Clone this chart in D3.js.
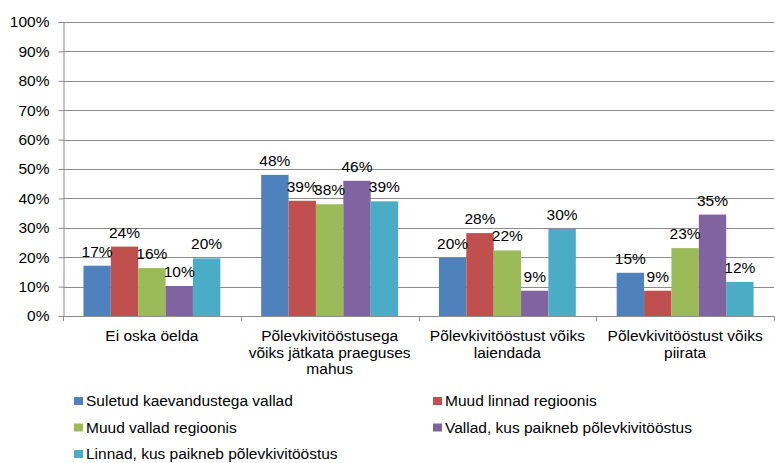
<!DOCTYPE html>
<html>
<head>
<meta charset="utf-8">
<script src="https://cdn.jsdelivr.net/npm/d3@7"></script>
<style>
  body { margin: 0; background: #fff; }
  svg { font-family: "Liberation Sans", Arial, sans-serif; }
</style>
</head>
<body>
<div id="chart"></div>
<script>
// Category labels (line breaks as in the original)
const categories = [
    "Ei oska öelda",
    "Põlevkivitööstusega\nvõiks jätkata praeguses\nmahus",
    "Põlevkivitööstust võiks\nlaiendada",
    "Põlevkivitööstust võiks\npiirata"
];

const seriesNames = [
    "Suletud kaevandustega vallad",
    "Muud linnad regioonis",
    "Muud vallad regioonis",
    "Vallad, kus paikneb põlevkivitööstus",
    "Linnad, kus paikneb põlevkivitööstus"
];

// values per series, one per category (percent)
const suletud = [17.1, 48.0, 19.8, 14.7];
const muudLinnad = [23.6, 39.2, 28.2, 8.6];
const muudVallad = [16.3, 38.0, 22.3, 23.1];
const valladPKT = [10.2, 46.0, 8.6, 34.5];
const linnadPKT = [19.6, 39.0, 29.6, 11.6];

const seriesValues = [suletud, muudLinnad, muudVallad, valladPKT, linnadPKT];
const colors = ["#4F81BD", "#C0504D", "#9BBB59", "#8064A2", "#4BACC6"];
const yTicks = [0, 10, 20, 30, 40, 50, 60, 70, 80, 90, 100];

const W = 775, H = 463;
const margin = { top: 22, right: 1, bottom: 147, left: 63 };
const width = W - margin.left - margin.right;
const height = H - margin.top - margin.bottom;
const fontSize = "15.5px";

const svg = d3.select("#chart").append("svg")
    .attr("width", W)
    .attr("height", H);

const g = svg.append("g")
    .attr("transform", `translate(${margin.left},${margin.top})`);

const x0 = d3.scaleBand()
    .domain(categories)
    .range([0, width])
    .paddingInner(0)
    .paddingOuter(0);

const x1 = d3.scaleBand()
    .domain(seriesNames)
    .range([0, x0.bandwidth() * 0.77])
    .padding(0);

const groupOffset = x0.bandwidth() * 0.115;

const y = d3.scaleLinear()
    .domain([0, 100])
    .range([height, 0]);

// gridlines
g.append("g")
    .selectAll("line")
    .data(yTicks.filter(d => d > 0))
    .enter().append("line")
    .attr("x1", 0)
    .attr("x2", width)
    .attr("y1", d => Math.round(y(d)) + 0.5)
    .attr("y2", d => Math.round(y(d)) + 0.5)
    .attr("stroke", "#8c8c8c")
    .attr("stroke-width", 1);

// y axis
const yAxis = g.append("g")
    .attr("transform", "translate(0.5,0)")
    .call(d3.axisLeft(y).tickValues(yTicks).tickSize(5).tickPadding(9).tickFormat(d => d + "%"));
yAxis.select(".domain").attr("stroke", "#8c8c8c");
yAxis.selectAll(".tick line").attr("stroke", "#8c8c8c");
yAxis.selectAll("text")
    .attr("fill", "#000")
    .style("font-size", fontSize)
    .style("font-family", "Liberation Sans, Arial, sans-serif");

// x axis baseline and category ticks
g.append("line")
    .attr("x1", 0).attr("x2", width)
    .attr("y1", height + 0.5).attr("y2", height + 0.5)
    .attr("stroke", "#8c8c8c");

g.append("g")
    .selectAll("line")
    .data(categories.map((c, i) => i).concat([categories.length]))
    .enter().append("line")
    .attr("x1", i => Math.round(i * x0.bandwidth()) + 0.5)
    .attr("x2", i => Math.round(i * x0.bandwidth()) + 0.5)
    .attr("y1", height)
    .attr("y2", height + 5)
    .attr("stroke", "#8c8c8c");

// bars
const groups = g.selectAll(".cat")
    .data(categories)
    .enter().append("g")
    .attr("class", "cat")
    .attr("transform", d => `translate(${x0(d) + groupOffset},0)`);

groups.selectAll("rect")
    .data((c, ci) => seriesNames.map((s, si) => ({ s, si, v: seriesValues[si][ci] })))
    .enter().append("rect")
    .attr("x", d => x1(d.s))
    .attr("y", d => y(d.v))
    .attr("width", x1.bandwidth())
    .attr("height", d => height - y(d.v))
    .attr("fill", d => colors[d.si]);

// value labels
groups.selectAll(".lbl")
    .data((c, ci) => seriesNames.map((s, si) => ({ s, si, v: seriesValues[si][ci] })))
    .enter().append("text")
    .attr("class", "lbl")
    .attr("x", d => x1(d.s) + x1.bandwidth() / 2)
    .attr("y", d => y(d.v) - 9)
    .attr("text-anchor", "middle")
    .style("font-size", fontSize)
    .attr("fill", "#000")
    .text(d => Math.round(d.v) + "%");

// category labels
const catLabels = g.selectAll(".catlbl")
    .data(categories)
    .enter().append("text")
    .attr("class", "catlbl")
    .attr("x", d => x0(d) + x0.bandwidth() / 2)
    .attr("y", height + 25)
    .attr("text-anchor", "middle")
    .style("font-size", fontSize)
    .attr("fill", "#000");

catLabels.selectAll("tspan")
    .data(d => d.split("\n"))
    .enter().append("tspan")
    .attr("x", function () { return d3.select(this.parentNode).attr("x"); })
    .attr("dy", (d, i) => i === 0 ? 0 : 16.5)
    .text(d => d);

// legend
const legend = svg.append("g");
const legendItems = legend.selectAll(".leg")
    .data(seriesNames)
    .enter().append("g")
    .attr("class", "leg")
    .attr("transform", (d, i) => `translate(${i % 2 === 0 ? 74 : 433},${406 + Math.floor(i / 2) * 26.5})`);

legendItems.append("rect")
    .attr("x", 0).attr("y", -9)
    .attr("width", 9).attr("height", 8)
    .attr("fill", (d, i) => colors[i]);

legendItems.append("text")
    .attr("x", 12)
    .attr("y", 0)
    .style("font-size", fontSize)
    .attr("fill", "#000")
    .text(d => d);
</script>
</body>
</html>
